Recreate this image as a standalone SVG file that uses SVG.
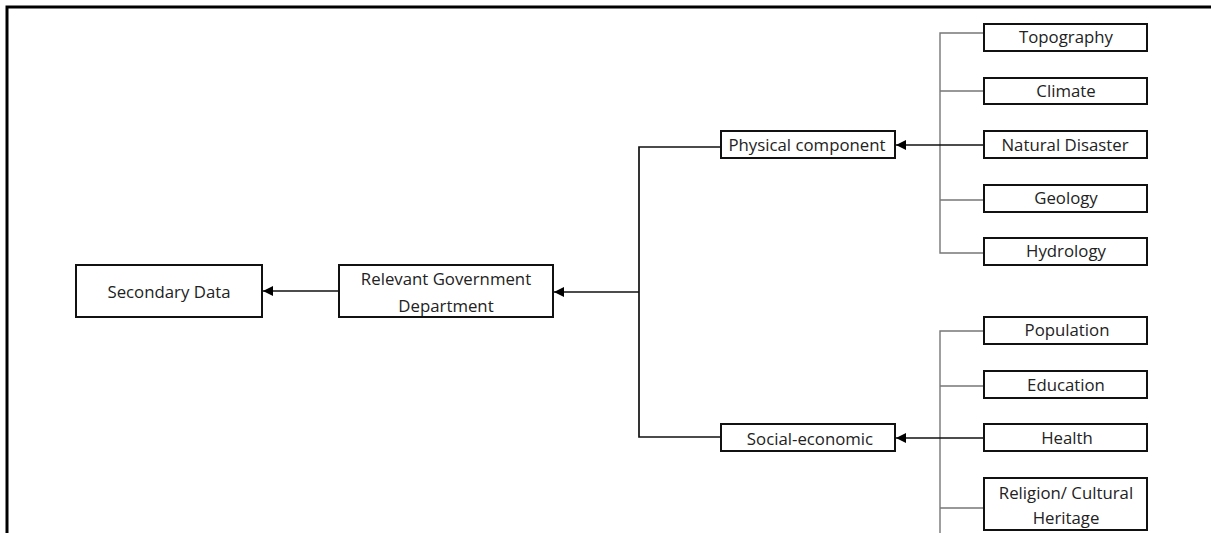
<svg xmlns="http://www.w3.org/2000/svg" width="1211" height="533" viewBox="0 0 1211 533">
  <style>
    .box { fill: #fff; stroke: #111; stroke-width: 2; }
    .lbl { font-family: "Open Sans", "Liberation Sans", sans-serif; font-size: 16.8px; fill: #222; text-anchor: middle; }
    .main { fill: none; stroke: #111; stroke-width: 1.7; }
    .branch { fill: none; stroke: #777; stroke-width: 1.4; }
    .frame { fill: none; stroke: #000; stroke-width: 3; }
  </style>
  <defs>
    <marker id="arrow" viewBox="0 0 10 10" refX="10" refY="5" markerWidth="10" markerHeight="10" markerUnits="userSpaceOnUse" orient="auto">
      <path d="M0,0 L10,5 L0,10 z" fill="#000"/>
    </marker>
  </defs>

  <!-- outer frame: top and left edges -->
  <path class="frame" d="M7,533 V7 H1211"/>

  <!-- connectors -->
  <g id="connectors">
    <!-- physical component bracket -->
    <path class="branch" d="M984,33 H940 V253 H984 M940,91 H984 M940,200 H984"/>
    <!-- social-economic bracket -->
    <path class="branch" d="M984,331 H940 V533 M940,386 H984 M940,508 H984"/>
    <!-- sub-components into category boxes -->
    <path class="main" d="M984,145 H896" marker-end="url(#arrow)"/>
    <path class="main" d="M984,438 H896" marker-end="url(#arrow)"/>
    <!-- categories into department -->
    <path class="main" d="M721,147 H639 V437 H721"/>
    <path class="main" d="M639,292 H554" marker-end="url(#arrow)"/>
    <!-- department into secondary data -->
    <path class="main" d="M339,291 H263" marker-end="url(#arrow)"/>
  </g>

  <g id="secondary-data">
    <rect class="box" x="76" y="265" width="186" height="52"/>
    <text class="lbl" x="169" y="298">Secondary Data</text>
  </g>
  <g id="government-department">
    <rect class="box" x="339" y="265" width="214" height="52"/>
    <text class="lbl" x="446" y="285">Relevant Government</text>
    <text class="lbl" x="446" y="312">Department</text>
  </g>
  <g id="physical-component">
    <rect class="box" x="721" y="131" width="174" height="27"/>
    <text class="lbl" x="807" y="151">Physical component</text>
  </g>
  <g id="social-economic">
    <rect class="box" x="721" y="424" width="174" height="27"/>
    <text class="lbl" x="810" y="445">Social-economic</text>
  </g>

  <g id="topography">
    <rect class="box" x="984" y="24" width="163" height="27"/>
    <text class="lbl" x="1066" y="43">Topography</text>
  </g>
  <g id="climate">
    <rect class="box" x="984" y="78" width="163" height="26"/>
    <text class="lbl" x="1066" y="97">Climate</text>
  </g>
  <g id="natural-disaster">
    <rect class="box" x="984" y="131" width="163" height="27"/>
    <text class="lbl" x="1065" y="151">Natural Disaster</text>
  </g>
  <g id="geology">
    <rect class="box" x="984" y="185" width="163" height="27"/>
    <text class="lbl" x="1066" y="204">Geology</text>
  </g>
  <g id="hydrology">
    <rect class="box" x="984" y="238" width="163" height="27"/>
    <text class="lbl" x="1066" y="257">Hydrology</text>
  </g>

  <g id="population">
    <rect class="box" x="984" y="317" width="163" height="27"/>
    <text class="lbl" x="1067" y="336">Population</text>
  </g>
  <g id="education">
    <rect class="box" x="984" y="371" width="163" height="27"/>
    <text class="lbl" x="1066" y="391">Education</text>
  </g>
  <g id="health">
    <rect class="box" x="984" y="424" width="163" height="27"/>
    <text class="lbl" x="1067" y="444">Health</text>
  </g>
  <g id="religion-cultural-heritage">
    <rect class="box" x="984" y="478" width="163" height="52"/>
    <text class="lbl" x="1066" y="499">Religion/ Cultural</text>
    <text class="lbl" x="1066" y="524">Heritage</text>
  </g>
</svg>
